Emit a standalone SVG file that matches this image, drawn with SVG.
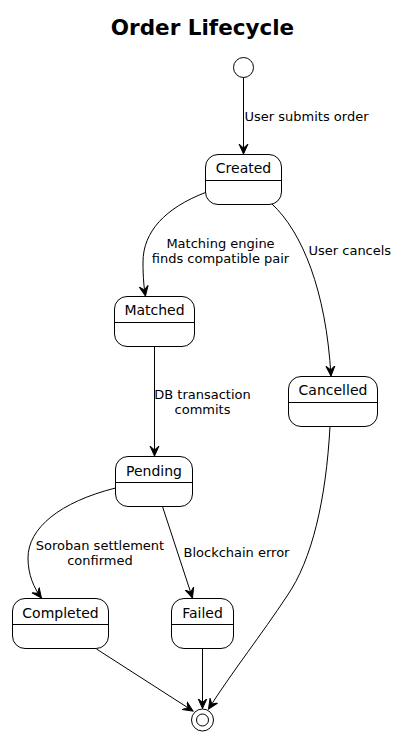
<svg xmlns="http://www.w3.org/2000/svg" width="405" height="744" viewBox="0 0 405 744">
<style>
.state rect{fill:#fff;stroke:#000;stroke-width:1}
.state line{stroke:#000;stroke-width:1}
.name{font-family:"DejaVu Sans",sans-serif;font-size:14px;text-anchor:middle;fill:#000}
.lbl{font-family:"DejaVu Sans",sans-serif;font-size:13px;fill:#000}
.mid{text-anchor:middle}
.edge{fill:none;stroke:#000;stroke-width:1;marker-end:url(#arr)}
.title{font-family:"DejaVu Sans",sans-serif;font-size:21.5px;font-weight:bold;text-anchor:middle;fill:#000}
</style>
<defs>
<marker id="arr" markerUnits="userSpaceOnUse" markerWidth="12" markerHeight="12" viewBox="-10 -6 12 12" refX="0" refY="0" orient="auto">
<path d="M0,0 L-10,-4.5 L-6,0 L-10,4.5 Z" fill="#000" stroke="#000" stroke-width="1" stroke-linejoin="miter"/>
</marker>
</defs>
<rect width="405" height="744" fill="#fff"/>
<text class="title" x="202.5" y="35">Order Lifecycle</text>

<g id="start"><circle cx="243.5" cy="67.5" r="10" fill="#fff" stroke="#000" stroke-width="1"/></g>

<g id="Created" class="state"><rect x="205.5" y="154.5" width="76" height="50" rx="12.5"/><line x1="205.5" y1="180.5" x2="281.5" y2="180.5"/><text class="name" x="243.5" y="173">Created</text></g>
<g id="Matched" class="state"><rect x="114.5" y="296.5" width="80" height="50" rx="12.5"/><line x1="114.5" y1="322.5" x2="194.5" y2="322.5"/><text class="name" x="154.5" y="315">Matched</text></g>
<g id="Cancelled" class="state"><rect x="288.5" y="376.5" width="89" height="50" rx="12.5"/><line x1="288.5" y1="402.5" x2="377.5" y2="402.5"/><text class="name" x="333" y="395">Cancelled</text></g>
<g id="Pending" class="state"><rect x="115.5" y="456.5" width="77" height="50" rx="12.5"/><line x1="115.5" y1="482.5" x2="192.5" y2="482.5"/><text class="name" x="154" y="475.5">Pending</text></g>
<g id="Completed" class="state"><rect x="12.5" y="598.5" width="96" height="50" rx="12.5"/><line x1="12.5" y1="624.5" x2="108.5" y2="624.5"/><text class="name" x="60.5" y="617.5">Completed</text></g>
<g id="Failed" class="state"><rect x="171.5" y="598.5" width="62" height="50" rx="12.5"/><line x1="171.5" y1="624.5" x2="233.5" y2="624.5"/><text class="name" x="202.5" y="617.5">Failed</text></g>

<g id="end"><circle cx="202.5" cy="720" r="11" fill="#fff" stroke="#000" stroke-width="1"/><circle cx="202.5" cy="720" r="6" fill="#fff" stroke="#000" stroke-width="1"/></g>

<g id="connectors">
<path class="edge" d="M243.5,77.5 L243.5,154"/>
<path class="edge" d="M205.5,192.5 C165,208 143,232 143,262 C143,278 144,288 145.5,296"/>
<path class="edge" d="M272,204 C302,232 326,290 331,376"/>
<path class="edge" d="M154.5,346.5 L154.5,456"/>
<path class="edge" d="M115.5,488 C60,502 28,528 28,558 C28,575 34,588 41.5,598"/>
<path class="edge" d="M162.5,506.5 L192.5,598"/>
<path class="edge" d="M330,426.5 C326,500 312,560 287,596 C262,634 232,672 208.5,709"/>
<path class="edge" d="M96.5,649 L193,711"/>
<path class="edge" d="M202.5,648.5 L202.5,708.5"/>
</g>

<g id="labels">
<text class="lbl" x="244.5" y="120.5">User submits order</text>
<text class="lbl mid" x="220.5" y="247.5">Matching engine</text>
<text class="lbl mid" x="220.5" y="262.5">finds compatible pair</text>
<text class="lbl" x="308.5" y="254.5">User cancels</text>
<text class="lbl mid" x="202.5" y="399">DB transaction</text>
<text class="lbl mid" x="202.5" y="414">commits</text>
<text class="lbl mid" x="100" y="550">Soroban settlement</text>
<text class="lbl mid" x="100" y="565">confirmed</text>
<text class="lbl" x="183.5" y="556.5">Blockchain error</text>
</g>
</svg>
